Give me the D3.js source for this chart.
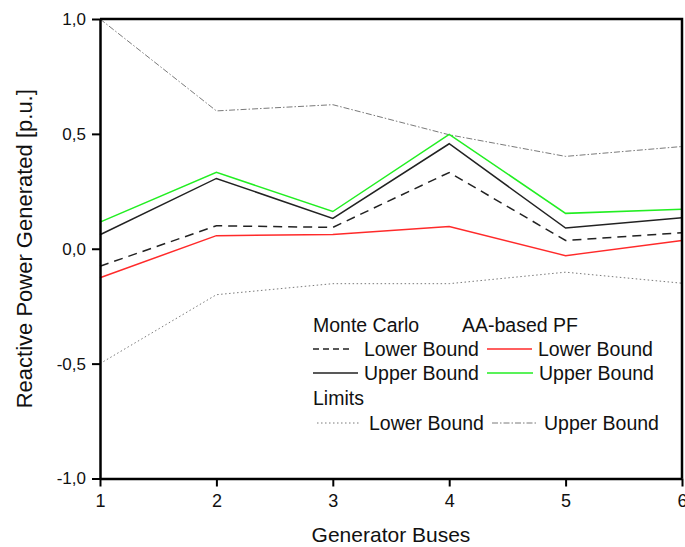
<html>
<head>
  <title>Reactive Power Bounds</title>
  <script src="https://cdn.jsdelivr.net/npm/d3@7"></script>
  <style>
  body { margin: 0; background: #fff; }
  text { font-family: "Liberation Sans", Arial, sans-serif; fill: #111; }
  .axis path, .axis line { stroke: #000; }
  </style>
</head>
<body>
  <svg id="chart" width="685" height="547"></svg>

  <script>

  var buses = [1, 2, 3, 4, 5, 6];
  var mcLower = [-0.076, 0.100, 0.093, 0.332, 0.036, 0.070];
  var mcUpper = [0.061, 0.306, 0.132, 0.457, 0.090, 0.135];
  var aaLower = [-0.126, 0.057, 0.062, 0.097, -0.030, 0.036];
  var aaUpper = [0.116, 0.333, 0.162, 0.498, 0.154, 0.172];
  var limLower = [-0.50, -0.20, -0.152, -0.152, -0.102, -0.150];
  var limUpper = [1.00, 0.600, 0.627, 0.496, 0.402, 0.445];
  var yTicks = [-1.0, -0.5, 0.0, 0.5, 1.0];

  var svg = d3.select('#chart');
  var x = d3.scaleLinear().domain([1, 6]).range([100, 682]);
  var y = d3.scaleLinear().domain([-1, 1]).range([478.5, 19]);

  function comma(v) { return v.toFixed(1).replace('.', ','); }

  // series, drawn back to front
  var series = [
    { vals: limUpper, color: '#7a7a7a', width: 1, dash: '6,2,1.5,2' },
    { vals: limLower, color: '#7a7a7a', width: 1, dash: '1.5,2.5' },
    { vals: aaLower, color: '#ff2a2a', width: 1.5, dash: null },
    { vals: mcLower, color: '#222', width: 1.5, dash: '9,6' },
    { vals: mcUpper, color: '#222', width: 1.5, dash: null },
    { vals: aaUpper, color: '#22ee22', width: 1.5, dash: null }
  ];

  var line = d3.line()
    .x(function(d, i) { return x(buses[i]); })
    .y(function(d) { return y(d); });

  series.forEach(function(s) {
    svg.append('path')
      .attr('d', line(s.vals))
      .attr('fill', 'none')
      .attr('stroke', s.color)
      .attr('stroke-width', s.width)
      .attr('stroke-dasharray', s.dash);
  });

  // axes
  var xAxis = svg.append('g').attr('class', 'axis')
    .attr('transform', 'translate(0,' + y(-1) + ')')
    .call(d3.axisBottom(x).tickValues(buses).tickFormat(d3.format('d'))
      .tickSize(8).tickSizeOuter(0).tickPadding(8));
  xAxis.select('.domain').attr('stroke-width', 2.5);
  xAxis.selectAll('line').attr('stroke-width', 2);
  xAxis.selectAll('text').attr('font-size', 18).attr('fill', '#111');

  var yAxis = svg.append('g').attr('class', 'axis')
    .attr('transform', 'translate(' + x(1) + ',0)')
    .call(d3.axisLeft(y).tickValues(yTicks).tickFormat(comma)
      .tickSize(8).tickSizeOuter(0).tickPadding(6));
  yAxis.select('.domain').attr('stroke-width', 2.5);
  yAxis.selectAll('line').attr('stroke-width', 2);
  yAxis.selectAll('text').attr('font-size', 17).attr('fill', '#111');

  // top and right frame
  svg.append('path')
    .attr('d', 'M' + x(1) + ',' + y(1) + 'H' + x(6) + 'V' + y(-1))
    .attr('fill', 'none').attr('stroke', '#000').attr('stroke-width', 2.5);

  // axis titles
  svg.append('text')
    .attr('x', (x(1) + x(6)) / 2).attr('y', 542)
    .attr('text-anchor', 'middle').attr('font-size', 21)
    .text('Generator Buses');
  svg.append('text')
    .attr('transform', 'translate(32,' + (y(1) + y(-1)) / 2 + ') rotate(-90)')
    .attr('text-anchor', 'middle').attr('font-size', 22)
    .text('Reactive Power Generated [p.u.]');

  // legend
  var legendHeads = [
    { label: 'Monte Carlo', x: 313, y: 325 },
    { label: 'AA-based PF', x: 462, y: 325 },
    { label: 'Limits', x: 313, y: 398 }
  ];
  var legendItems = [
    { s: series[3], x0: 313, x1: 352, tx: 364, y: 349, label: 'Lower Bound' },
    { s: series[2], x0: 487, x1: 532, tx: 538, y: 349, label: 'Lower Bound' },
    { s: series[4], x0: 313, x1: 358, tx: 364, y: 373, label: 'Upper Bound' },
    { s: series[5], x0: 487, x1: 533, tx: 539, y: 373, label: 'Upper Bound' },
    { s: series[1], x0: 317, x1: 361, tx: 369, y: 423, label: 'Lower Bound' },
    { s: series[0], x0: 492, x1: 537, tx: 544, y: 423, label: 'Upper Bound' }
  ];

  var lg = svg.append('g');
  legendHeads.forEach(function(h) {
    lg.append('text').attr('x', h.x).attr('y', h.y)
      .attr('dy', '0.36em').attr('font-size', 19.5).text(h.label);
  });
  legendItems.forEach(function(it) {
    lg.append('line')
      .attr('x1', it.x0).attr('x2', it.x1).attr('y1', it.y).attr('y2', it.y)
      .attr('stroke', it.s.color).attr('stroke-width', it.s.width)
      .attr('stroke-dasharray', it.s.dash === '9,6' ? '6,4' : it.s.dash);
    lg.append('text').attr('x', it.tx).attr('y', it.y)
      .attr('dy', '0.36em').attr('font-size', 19.5).text(it.label);
  });

  </script>
</body>
</html>
